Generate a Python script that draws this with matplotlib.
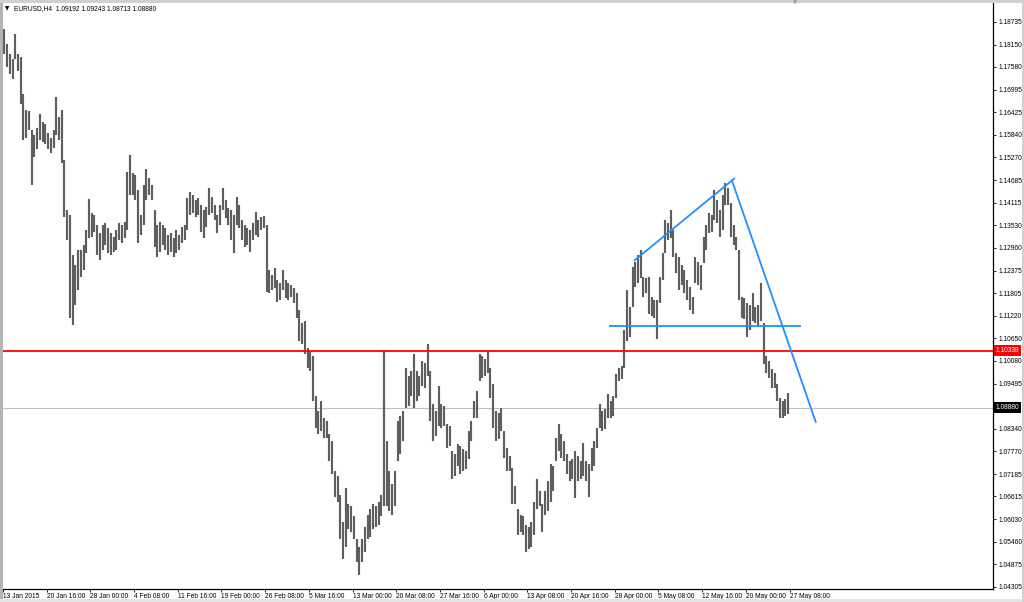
import matplotlib
matplotlib.use("Agg")
import matplotlib.pyplot as plt
from matplotlib.patches import Rectangle
from matplotlib.transforms import blended_transform_factory

# ---------------- data ----------------
title_text = "EURUSD,H4  1.09192 1.09243 1.08713 1.08880"

highs = [
    1.1855, 1.1816, 1.1790, 1.1778, 1.1842, 1.1790, 1.1783, 1.1688, 1.1649, 1.1644,
    1.1598, 1.1585, 1.1603, 1.1637, 1.1616, 1.1611, 1.1590, 1.1577, 1.1598, 1.1680,
    1.1629, 1.1649, 1.1521, 1.1393, 1.1380, 1.1277, 1.1252, 1.1290, 1.1290, 1.1303,
    1.1341, 1.1421, 1.1385, 1.1380, 1.1354, 1.1334, 1.1354, 1.1360, 1.1347, 1.1334,
    1.1324, 1.1341, 1.1360, 1.1354, 1.1362, 1.1490, 1.1534, 1.1488, 1.1483, 1.1444,
    1.1380, 1.1457, 1.1498, 1.1475, 1.1457, 1.1393, 1.1354, 1.1362, 1.1354, 1.1347,
    1.1329, 1.1334, 1.1321, 1.1341, 1.1329, 1.1349, 1.1354, 1.1423, 1.1439, 1.1431,
    1.1418, 1.1423, 1.1406, 1.1393, 1.1400, 1.1449, 1.1426, 1.1406, 1.1380, 1.1406,
    1.1449, 1.1418, 1.1398, 1.1393, 1.1380, 1.1426, 1.1406, 1.1367, 1.1354, 1.1347,
    1.1341, 1.1360, 1.1388, 1.1367, 1.1375, 1.1377, 1.1354, 1.1239, 1.1226, 1.1244,
    1.1213, 1.1206, 1.1239, 1.1213, 1.1206, 1.1200, 1.1193, 1.1180, 1.1136, 1.1105,
    1.1110, 1.1041, 1.1033, 1.1021, 1.0918, 1.0879, 1.0905, 1.0862, 1.0854, 1.0820,
    1.0802, 1.0725, 1.0713, 1.0666, 1.0597, 1.0682, 1.0641, 1.0636, 1.0610, 1.0553,
    1.0533, 1.0553, 1.0584, 1.0615, 1.0628, 1.0641, 1.0636, 1.0648, 1.0666, 1.1036,
    1.0802, 1.0725, 1.0692, 1.0725, 1.0854, 1.0866, 1.0879, 1.0990, 1.0969, 1.0982,
    1.1026, 1.0982, 1.0969, 1.1008, 1.1003, 1.1051, 1.0982, 1.0897, 1.0879, 1.0944,
    1.0897, 1.0892, 1.0846, 1.0841, 1.0777, 1.0769, 1.0795, 1.0790, 1.0782, 1.0777,
    1.0828, 1.0854, 1.0905, 1.0931, 1.1026, 1.1021, 1.1013, 1.1033, 1.0990, 1.0949,
    1.0879, 1.0874, 1.0887, 1.0828, 1.0784, 1.0764, 1.0733, 1.0687, 1.0630, 1.0615,
    1.0610, 1.0589, 1.0584, 1.0597, 1.0648, 1.0705, 1.0674, 1.0641, 1.0674, 1.0700,
    1.0743, 1.0738, 1.0810, 1.0846, 1.0820, 1.0802, 1.0769, 1.0751, 1.0756, 1.0777,
    1.0764, 1.0751, 1.0797, 1.0751, 1.0743, 1.0784, 1.0802, 1.0836, 1.0897, 1.0879,
    1.0884, 1.0923, 1.0905, 1.0918, 1.0974, 1.0990, 1.0995, 1.1085, 1.1187, 1.1144,
    1.1246, 1.1259, 1.1277, 1.1290, 1.1221, 1.1218, 1.1221, 1.1170, 1.1162, 1.1162,
    1.1221, 1.1283, 1.1367, 1.1360, 1.1393, 1.1341, 1.1283, 1.1272, 1.1252, 1.1239,
    1.1213, 1.1195, 1.1170, 1.1272, 1.1259, 1.1252, 1.1324, 1.1354, 1.1385, 1.1380,
    1.1444, 1.1418, 1.1393, 1.1431, 1.1462, 1.1449, 1.1411, 1.1354, 1.1324, 1.1290,
    1.1170, 1.1167, 1.1154, 1.1149, 1.1180, 1.1144, 1.1149, 1.1205, 1.1103, 1.1021,
    1.1008, 1.0987, 1.0977, 1.0949, 1.0913, 1.0905, 1.0910, 1.09243,
]

lows = [
    1.1790, 1.1757, 1.1739, 1.1726, 1.1778, 1.1747, 1.1662, 1.1572, 1.1577, 1.1598,
    1.1457, 1.1529, 1.1547, 1.1572, 1.1565, 1.1560, 1.1547, 1.1539, 1.1552, 1.1585,
    1.1572, 1.1513, 1.1375, 1.1316, 1.1118, 1.1098, 1.1149, 1.1187, 1.1221, 1.1239,
    1.1283, 1.1321, 1.1324, 1.1336, 1.1277, 1.1264, 1.1290, 1.1303, 1.1283, 1.1277,
    1.1285, 1.1290, 1.1316, 1.1308, 1.1321, 1.1341, 1.1431, 1.1431, 1.1418, 1.1308,
    1.1329, 1.1354, 1.1418, 1.1431, 1.1418, 1.1298, 1.1272, 1.1285, 1.1303, 1.1290,
    1.1277, 1.1285, 1.1272, 1.1283, 1.1290, 1.1308, 1.1316, 1.1341, 1.1380, 1.1385,
    1.1375, 1.1380, 1.1336, 1.1321, 1.1349, 1.1380, 1.1385, 1.1367, 1.1334, 1.1354,
    1.1393, 1.1372, 1.1354, 1.1316, 1.1283, 1.1354, 1.1347, 1.1316, 1.1298, 1.1303,
    1.1285, 1.1316, 1.1329, 1.1324, 1.1341, 1.1347, 1.1182, 1.1180, 1.1187, 1.1193,
    1.1157, 1.1162, 1.1187, 1.1167, 1.1162, 1.1170, 1.1154, 1.1118, 1.1059, 1.1051,
    1.1026, 1.0990, 1.0982, 1.0905, 1.0836, 1.0820, 1.0828, 1.0810, 1.0810, 1.0751,
    1.0718, 1.0661, 1.0648, 1.0553, 1.0502, 1.0533, 1.0579, 1.0571, 1.0553, 1.0494,
    1.0461, 1.0494, 1.0520, 1.0553, 1.0558, 1.0579, 1.0584, 1.0589, 1.0610, 1.0636,
    1.0636, 1.0623, 1.0615, 1.0636, 1.0751, 1.0769, 1.0802, 1.0887, 1.0892, 1.0918,
    1.0887, 1.0905, 1.0918, 1.0944, 1.0939, 1.0969, 1.0854, 1.0802, 1.0815, 1.0841,
    1.0836, 1.0841, 1.0784, 1.0790, 1.0707, 1.0713, 1.0738, 1.0718, 1.0725, 1.0730,
    1.0756, 1.0802, 1.0862, 1.0862, 1.0956, 1.0964, 1.0969, 1.0977, 1.0913, 1.0836,
    1.0802, 1.0807, 1.0828, 1.0759, 1.0725, 1.0725, 1.0641, 1.0641, 1.0564, 1.0571,
    1.0564, 1.0520, 1.0528, 1.0533, 1.0564, 1.0630, 1.0636, 1.0571, 1.0615, 1.0623,
    1.0648, 1.0674, 1.0751, 1.0777, 1.0759, 1.0751, 1.0718, 1.0700, 1.0705, 1.0656,
    1.0700, 1.0707, 1.0713, 1.0700, 1.0661, 1.0725, 1.0738, 1.0784, 1.0836, 1.0828,
    1.0833, 1.0862, 1.0862, 1.0866, 1.0913, 1.0956, 1.0962, 1.0990, 1.1059, 1.1067,
    1.1144, 1.1195, 1.1205, 1.1218, 1.1170, 1.1180, 1.1128, 1.1123, 1.1118, 1.1064,
    1.1154, 1.1213, 1.1283, 1.1316, 1.1321, 1.1272, 1.1231, 1.1187, 1.1200, 1.1180,
    1.1162, 1.1136, 1.1128, 1.1205, 1.1200, 1.1187, 1.1257, 1.1290, 1.1334, 1.1336,
    1.1367, 1.1360, 1.1324, 1.1341, 1.1406, 1.1406, 1.1324, 1.1303, 1.1290, 1.1162,
    1.1118, 1.1115, 1.1067, 1.1085, 1.1110, 1.1103, 1.1098, 1.1110, 1.1000, 1.0977,
    1.0964, 1.0939, 1.0939, 1.0905, 1.0862, 1.0862, 1.0866, 1.08713,
]

date_labels = [
    "13 Jan 2015", "20 Jan 16:00", "28 Jan 00:00", "4 Feb 08:00", "11 Feb 16:00",
    "19 Feb 00:00", "26 Feb 08:00", "5 Mar 16:00", "13 Mar 00:00", "20 Mar 08:00",
    "27 Mar 16:00", "6 Apr 00:00", "13 Apr 08:00", "20 Apr 16:00", "28 Apr 00:00",
    "5 May 08:00", "12 May 16:00", "20 May 00:00", "27 May 08:00",
]
bars_per_label = 16

price_ticks = [
    1.18735, 1.18150, 1.17580, 1.16995, 1.16425, 1.15840, 1.15270, 1.14685,
    1.14115, 1.13530, 1.12960, 1.12375, 1.11805, 1.11220, 1.10650, 1.10080,
    1.09495, 1.08340, 1.07770, 1.07185, 1.06615, 1.06030, 1.05460, 1.04875,
    1.04305,
]

level_red = 1.10338
bid_price = 1.08880

rising_x = [230.5, 267.5]
rising_y = [1.12626, 1.14741]
falling_x = [266.3, 297.2]
falling_y = [1.14698, 1.08494]
neck_x = [221.5, 291.7]
neck_y = [1.10976, 1.10976]

# ---------------- figure ----------------
W, H = 1024, 602
fig = plt.figure(figsize=(W / 100, H / 100), dpi=100)
fig.patch.set_facecolor("white")
FONT = "Liberation Sans"
FS = 4.8

ax_l, ax_r, ax_t, ax_b = 3, 993, 3, 589
ax = fig.add_axes([ax_l / W, (H - ax_b) / H, (ax_r - ax_l) / W, (ax_b - ax_t) / H])
ax.set_facecolor("white")

x = list(range(len(highs)))
ax.vlines(x, lows, highs, color="#5e5e5e", lw=1.55, zorder=3)

ax.axhline(level_red, color="#ff0000", lw=1.3, zorder=4)
ax.axhline(bid_price, color="#c0c0c0", lw=0.8, zorder=2)

blue = "#1e90ff"
ax.plot(rising_x, rising_y, color=blue, lw=1.3, zorder=5, solid_capstyle="butt")
ax.plot(falling_x, falling_y, color=blue, lw=1.3, zorder=5, solid_capstyle="butt")
ax.plot(neck_x, neck_y, color=blue, lw=1.3, zorder=5, solid_capstyle="butt")

ax.set_xlim(-0.5, 362.0)
ax.set_ylim(1.04249, 1.19210)

# spines
for s in ["left", "top"]:
    ax.spines[s].set_visible(False)
ax.spines["right"].set_color("black")
ax.spines["bottom"].set_color("black")
ax.spines["right"].set_linewidth(0.9)
ax.spines["bottom"].set_linewidth(0.9)

# y axis on right
ax.yaxis.tick_right()
ax.set_yticks(price_ticks)
ax.set_yticklabels([f"{v:.5f}" for v in price_ticks], fontsize=FS, family=FONT)
ax.tick_params(axis="y", direction="out", length=2.2, width=0.6, pad=1.5, colors="black")

# x axis
xticks = [i * bars_per_label - 0.5 for i in range(len(date_labels))]
ax.set_xticks(xticks)
ax.set_xticklabels(date_labels, fontsize=FS, family=FONT)
for lab in ax.get_xticklabels():
    lab.set_horizontalalignment("left")
ax.tick_params(axis="x", direction="out", length=2.5, width=0.6, pad=0.5, colors="black")

# price label boxes on the axis
tr = blended_transform_factory(ax.transAxes, ax.transData)
ax.text(1.0025, level_red, f"{level_red:.5f}", transform=tr, fontsize=FS, family=FONT,
        color="white", va="center", ha="left", clip_on=False, zorder=10,
        bbox=dict(boxstyle="square,pad=0.25", fc="#ff0000", ec="none"))
ax.text(1.0025, bid_price, f"{bid_price:.5f}", transform=tr, fontsize=FS, family=FONT,
        color="white", va="center", ha="left", clip_on=False, zorder=10,
        bbox=dict(boxstyle="square,pad=0.25", fc="#000000", ec="none"))

# window frame
fig.patches.append(Rectangle((0, 0), 3 / W, 1, transform=fig.transFigure,
                             fc="#b4b4b4", ec="none", zorder=0))
fig.patches.append(Rectangle((0, 1 - 3 / H), 1, 3 / H, transform=fig.transFigure,
                             fc="#d0d0d0", ec="none", zorder=0))
fig.patches.append(Rectangle((0, 0), 1, 3 / H, transform=fig.transFigure,
                             fc="#e4e4e4", ec="none", zorder=0))
fig.patches.append(Rectangle((1 - 2 / W, 0), 2 / W, 1, transform=fig.transFigure,
                             fc="#d0d0d0", ec="none", zorder=0))

# title
fig.text(5 / W, 1 - 9 / H, "\u25bc", fontsize=4, family="DejaVu Sans", va="center", ha="left")
fig.text(14 / W, 1 - 9 / H, title_text, fontsize=FS, family=FONT, va="center", ha="left")
fig.text(795 / W, 1 - 3 / H, "\u25bc", fontsize=4, family="DejaVu Sans", color="#a0a0a0",
         va="center", ha="center")

fig.savefig("out.png", dpi=100, facecolor=fig.get_facecolor())
